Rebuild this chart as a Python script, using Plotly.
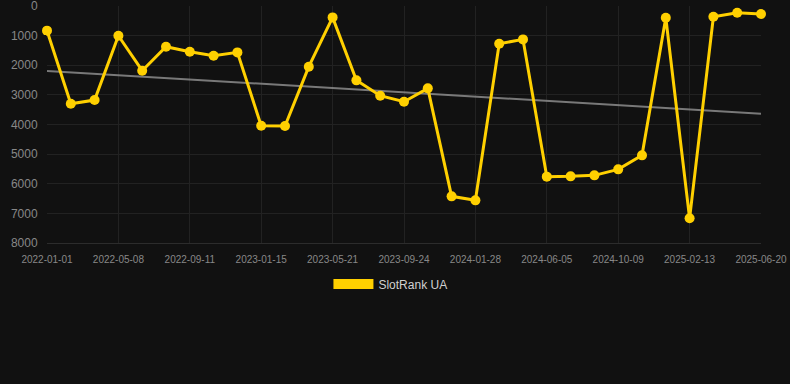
import numpy as np
import plotly.graph_objects as go

dates = [
    "2022-01-01", "2022-02-12", "2022-03-26", "2022-05-08", "2022-06-19", "2022-07-31",
    "2022-09-11", "2022-10-23", "2022-12-04", "2023-01-15", "2023-02-26", "2023-04-09",
    "2023-05-21", "2023-07-02", "2023-08-13", "2023-09-24", "2023-11-05", "2023-12-17",
    "2024-01-28", "2024-03-10", "2024-04-22", "2024-06-05", "2024-07-17", "2024-08-28",
    "2024-10-09", "2024-11-21", "2025-01-02", "2025-02-13", "2025-03-27", "2025-05-08",
    "2025-06-20",
]
ranks = [
    830, 3300, 3173, 1002, 2183, 1373, 1541, 1676, 1564, 4040, 4050, 2048,
    383, 2509, 3027, 3229, 2779, 6425, 6560, 1271, 1125, 5760, 5750, 5716,
    5514, 5041, 394, 7167, 360, 225, 270,
]
tick_labels = dates[::3]
y_ticks = [0, 1000, 2000, 3000, 4000, 5000, 6000, 7000, 8000]
series_name = "SlotRank UA"

idx = np.arange(len(ranks))
slope, intercept = np.polyfit(idx, ranks, 1)
trend = slope * idx + intercept

YELLOW = "#FFD000"
BG = "#111111"
GRID = "#222222"

fig = go.Figure()
fig.add_trace(go.Scatter(
    x=dates, y=trend, mode="lines",
    line=dict(color="rgba(140,140,140,0.85)", width=2),
    showlegend=False, hoverinfo="skip",
))
fig.add_trace(go.Scatter(
    x=dates, y=ranks, mode="lines+markers", name=series_name,
    line=dict(color=YELLOW, width=3),
    marker=dict(color=YELLOW, size=10),
    cliponaxis=False, showlegend=False,
))
fig.add_trace(go.Scatter(
    x=[None], y=[None], mode="lines", name=series_name,
    line=dict(color=YELLOW, width=12),
    showlegend=True,
))

fig.update_layout(
    width=790, height=384,
    paper_bgcolor=BG, plot_bgcolor=BG,
    margin=dict(l=47, r=29, t=6, b=141, autoexpand=False),
    font=dict(family="Liberation Sans, Arial, sans-serif", color="#999999"),
    legend=dict(
        orientation="h", x=0.481, xanchor="center", y=-0.173, yanchor="middle",
        font=dict(size=12, color="#d0d0d0"), itemwidth=40,
        bgcolor="rgba(0,0,0,0)",
    ),
    xaxis=dict(
        type="category", categoryorder="array", categoryarray=dates,
        range=[0, len(dates) - 1],
        tickvals=tick_labels, ticktext=tick_labels,
        tickfont=dict(size=10, color="#888888"),
        showgrid=True, gridcolor=GRID, gridwidth=1,
        ticks="outside", ticklen=7, tickcolor=BG,
        showline=True, linecolor="#2c2c2c", linewidth=1,
        zeroline=False, tickangle=0, automargin=False,
        ticklabeloverflow="allow",
    ),
    yaxis=dict(
        range=[8000, -2], tickvals=y_ticks, tickformat="d",
        tickfont=dict(size=12, color="#888888"),
        showgrid=True, gridcolor=GRID, gridwidth=1,
        ticks="outside", ticklen=6, tickcolor=BG,
        zeroline=False, automargin=False,
        ticklabeloverflow="allow",
    ),
)

fig.write_html(
    "out.html",
    config={"displayModeBar": False},
    post_script="document.body.style.margin='0';document.body.style.background='#111111';",
)
